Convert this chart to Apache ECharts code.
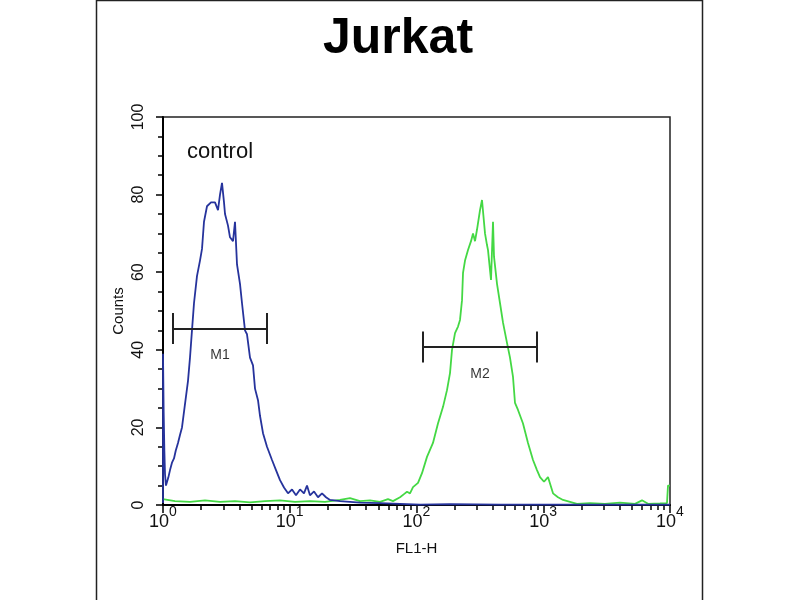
<!DOCTYPE html>
<html>
<head>
<meta charset="utf-8">
<script src="https://cdn.jsdelivr.net/npm/echarts@6/dist/echarts.min.js"></script>
<style>html,body{margin:0;padding:0;background:#fff;}#c{width:800px;height:600px;}</style>
</head>
<body>
<div id="c"></div>
<script>
// ---- data (FL1-H value, counts) ----
const titleText = 'Jurkat';
const controlLabel = 'control';
const xTickValues = [1, 10, 100, 1000, 10000];
const xMinorTickValues = [2,3,4,5,6,7,8,9,20,30,40,50,60,70,80,90,200,300,400,500,600,700,800,900,2000,3000,4000,5000,6000,7000,8000,9000];
const yTickValues = [0, 20, 40, 60, 80, 100];

const blueX = [1.000,1.000,1.012,1.025,1.037,1.055,1.075,1.100,1.136,1.180,1.221,1.260,1.313,1.360,1.412,1.491,1.575,1.633,1.693,1.756,1.854,1.958,2.031,2.106,2.224,2.391,2.572,2.716,2.817,2.921,3.029,3.085,3.257,3.378,3.567,3.699,3.836,4.050,4.201,4.436,4.600,4.858,5.130,5.320,5.617,5.825,6.152,6.614,7.245,7.790,8.378,9.007,9.687,10.42,11.20,12.05,12.95,13.68,14.44,15.54,16.71,17.97,19.32,20.78,24.92,29.88,35.84,51.53,74.10,106.6,183.8,456,1130,2804,6955,10000];
const blueY = [0.5,39,24,14,8,5,5.5,7,9,11,12,14,16,18,20,26,32,38,45,52,59,63,66,73,77,78,78,76,80,83,78,75,72,69,68,73,62,57,52,45,44,38,36,30,27,23,18.5,15,11.6,9,6.4,4.5,3,4,2.5,4,3,5,2.5,3.5,2,3,2,1.3,1,0.8,0.6,0.5,0.3,0.1,0.2,0.1,0.1,0.1,0.1,0.1];

const greenX = [1.000,1.243,1.633,2.145,2.817,3.699,4.858,6.380,8.378,11.00,14.44,18.97,24.92,29.88,35.84,42.97,51.53,59.60,65.26,74.10,79.66,84.17,88.86,93.85,102.8,110.5,121.0,134.9,147.7,161.9,174.0,183.8,190.6,201.3,212.6,220.4,228.6,232.8,241.4,254.9,269.2,279.2,289.5,300.2,317.0,328.7,347.1,359.9,366.6,387.1,401.4,408.8,431.7,456.0,481.5,517.6,546.6,577.3,598.6,632.1,692.2,758.0,830.1,892.6,942.6,1014,1090,1194,1307,1432,1626,1846,2338,3070,4032,5294,6012,6706,8339,9470,9643,10000];
const greenY = [1.5,1,0.8,1.2,0.8,1,0.7,1,1.2,0.8,1,0.8,1.3,1.8,1,1.2,0.8,1.5,1,2,2.8,3.4,3,4.6,5.7,8.2,12.4,16,21,25.3,29.6,34,40,44.3,46,47.7,52.8,59.8,63,65.7,68,70,68,71,76,78.6,70,67,65.7,58,73,64,57,52,47,41.8,38,33,26.3,24.5,21,16,11.6,9,7.2,6,7.2,3,2,1.3,0.8,0.3,0.5,0.3,0.6,0.3,1.2,0.3,0.4,0.5,5,5];

// gates
const gateNames = ['M1', 'M2'];
const gateLo = [1.199, 112.5];
const gateHi = [6.614, 892.6];
const gateY = [45.5, 40.7];
const gateCap = 4;

const FONT = "'Liberation Sans', Arial, sans-serif";
const zip = (a, b) => a.map((v, i) => [v, b[i]]);

const gateLines = [];
gateNames.forEach((n, i) => {
  gateLines.push([{coord: [gateLo[i], gateY[i]]}, {coord: [gateHi[i], gateY[i]]}]);
  gateLines.push([{coord: [gateLo[i], gateY[i] - gateCap]}, {coord: [gateLo[i], gateY[i] + gateCap]}]);
  gateLines.push([{coord: [gateHi[i], gateY[i] - gateCap]}, {coord: [gateHi[i], gateY[i] + gateCap]}]);
});
const gateLabelData = gateNames.map((n, i) => ({value: [Math.sqrt(gateLo[i] * gateHi[i]), gateY[i] - 7], name: n}));

const chart = echarts.init(document.getElementById('c'), null, {renderer: 'canvas'});
chart.setOption({
  animation: false,
  backgroundColor: '#ffffff',
  title: {
    text: titleText, left: 393, top: 9, textAlign: 'center',
    textStyle: {fontFamily: FONT, fontWeight: 'bold', fontSize: 50, color: '#000'}
  },
  graphic: [
    {type: 'rect', shape: {x: 96.5, y: 0.5, width: 606, height: 640}, style: {fill: 'none', stroke: '#222', lineWidth: 1.5}, silent: true},
    {type: 'text', x: 220, y: 152, style: {text: controlLabel, fontFamily: FONT, fontSize: 22, fill: '#111', textAlign: 'center', textVerticalAlign: 'middle'}}
  ],
  grid: {left: 163, top: 117, right: 130, bottom: 95, show: true, borderColor: '#222', borderWidth: 1.5, backgroundColor: 'transparent'},
  xAxis: [{
    type: 'log', logBase: 10, min: 1, max: 10000,
    axisLine: {show: true, lineStyle: {color: '#000', width: 2}},
    axisTick: {show: true, customValues: xTickValues, length: 8, lineStyle: {color: '#000', width: 1.5}},
    axisLabel: {
      show: true, customValues: xTickValues, margin: 0, color: '#111',
      formatter: v => '{b|10}{s|' + Math.round(Math.log10(v)) + '}',
      rich: {b: {fontFamily: FONT, fontSize: 18, lineHeight: 34, color: '#111'},
             s: {fontFamily: FONT, fontSize: 14, lineHeight: 8, verticalAlign: 'top', color: '#111'}}
    },
    splitLine: {show: false},
    name: 'FL1-H', nameLocation: 'middle', nameGap: 36, nameMoveOverlap: false,
    nameTextStyle: {fontFamily: FONT, fontSize: 15, color: '#111'}
  }, {
    type: 'log', logBase: 10, min: 1, max: 10000, position: 'bottom',
    axisLine: {show: false},
    axisTick: {show: true, customValues: xMinorTickValues, length: 5, lineStyle: {color: '#000', width: 1.5}},
    axisLabel: {show: false},
    splitLine: {show: false}
  }],
  yAxis: {
    type: 'value', min: 0, max: 100, interval: 20,
    axisLine: {show: true, lineStyle: {color: '#000', width: 2}},
    axisTick: {show: true, length: 7, lineStyle: {color: '#000', width: 1.5}},
    minorTick: {show: true, splitNumber: 4, length: 5, lineStyle: {color: '#000', width: 1.5}},
    axisLabel: {rotate: 90, margin: 16, fontFamily: FONT, fontSize: 16, color: '#111'},
    splitLine: {show: false},
    name: 'Counts', nameLocation: 'middle', nameGap: 37, nameRotate: 90, nameMoveOverlap: false,
    nameTextStyle: {fontFamily: FONT, fontSize: 15, color: '#111'}
  },
  series: [
    {
      name: 'sample', type: 'line', xAxisIndex: 0, data: zip(greenX, greenY),
      showSymbol: false, symbol: 'none',
      lineStyle: {color: '#44d844', width: 1.8}
    },
    {
      name: 'control', type: 'line', xAxisIndex: 0, data: zip(blueX, blueY),
      showSymbol: false, symbol: 'none',
      lineStyle: {color: '#26339c', width: 1.8},
      markLine: {
        silent: true, symbol: ['none', 'none'],
        label: {show: false},
        lineStyle: {color: '#222', width: 2, type: 'solid'},
        data: gateLines
      }
    },
    {
      name: 'gates', type: 'scatter', xAxisIndex: 0, data: gateLabelData,
      symbolSize: 0,
      label: {show: true, position: 'inside', formatter: p => p.name, fontFamily: FONT, fontSize: 14, color: '#000'}
    }
  ]
});
</script>
</body>
</html>
